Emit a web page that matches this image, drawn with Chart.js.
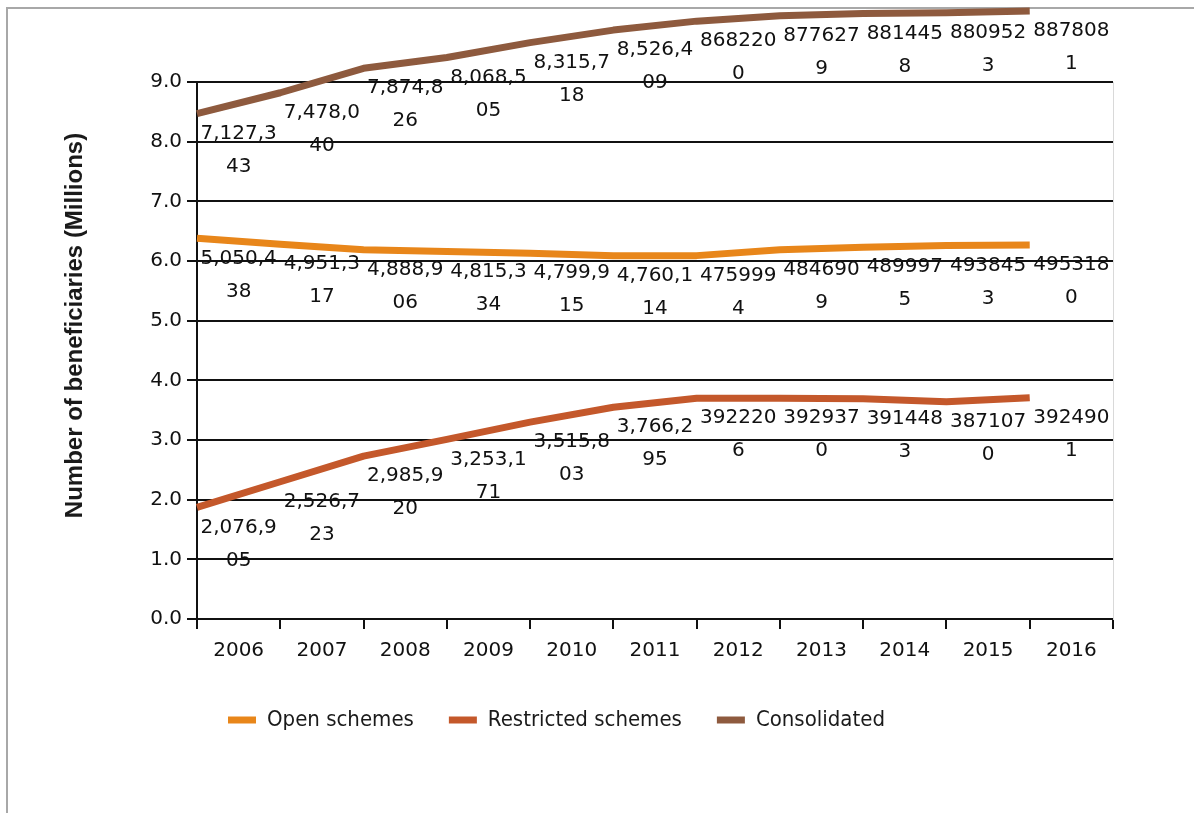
<!DOCTYPE html>
<html>
<head>
<meta charset="utf-8">
<script src="https://cdn.jsdelivr.net/npm/chart.js@4/dist/chart.umd.min.js"></script>
<style>
html,body{margin:0;padding:0;background:#fff;}
#frame{position:absolute;left:6px;top:7px;width:1188px;height:806px;border-left:2px solid #a8a8a8;border-top:2px solid #a8a8a8;box-sizing:border-box;}
#c{position:absolute;left:0;top:0;}
</style>
</head>
<body>
<div id="frame"></div>
<canvas id="c" width="1194" height="813"></canvas>
<script>
// Categories (x axis tick labels)
const years = ['2006','2007','2008','2009','2010','2011','2012','2013','2014','2015','2016'];
// Point slots: lines are drawn on the category boundaries (one extra slot at the right end)
const pointSlots = [...years, ''];
// Y axis tick values (millions)
const yTicks = [0,1,2,3,4,5,6,7,8,9];

// Plotted positions of each line (millions)
const openPlotted         = [6.38, 6.28, 6.19, 6.16, 6.13, 6.09, 6.09, 6.19, 6.23, 6.26, 6.27];
const restrictedPlotted   = [1.87, 2.30, 2.73, 3.01, 3.30, 3.55, 3.70, 3.70, 3.69, 3.64, 3.71];
const consolidatedPlotted = [8.47, 8.82, 9.23, 9.41, 9.66, 9.87, 10.02, 10.11, 10.15, 10.16, 10.19];

// Data label texts as printed in the chart
const openLabels = ['5,050,438','4,951,317','4,888,906','4,815,334','4,799,915','4,760,114','4759994','4846909','4899975','4938453','4953180'];
const restrictedLabels = ['2,076,905','2,526,723','2,985,920','3,253,171','3,515,803','3,766,295','3922206','3929370','3914483','3871070','3924901'];
const consolidatedLabels = ['7,127,343','7,478,040','7,874,826','8,068,505','8,315,718','8,526,409','8682200','8776279','8814458','8809523','8878081'];

const seriesNames = ['Open schemes','Restricted schemes','Consolidated'];
const seriesColors = ['#E8861A','#C4582B','#8E5A3E'];
const yTitle = 'Number of beneficiaries (Millions)';

function wrapChars(ctx, text, maxW) {
  const lines = [];
  let cur = '';
  for (const ch of text) {
    if (cur && ctx.measureText(cur + ch).width > maxW) { lines.push(cur); cur = ch; }
    else cur += ch;
  }
  if (cur) lines.push(cur);
  return lines;
}

const valueLabelPlugin = {
  id: 'valueLabels',
  afterDatasetsDraw(chart) {
    const ctx = chart.ctx;
    const xs = chart.scales.x;
    const slot = xs.width / years.length;
    ctx.save();
    ctx.font = '20px "DejaVu Sans"';
    ctx.fillStyle = '#111';
    ctx.textAlign = 'center';
    ctx.textBaseline = 'middle';
    chart.data.datasets.forEach((ds, di) => {
      const meta = chart.getDatasetMeta(di);
      ds.valueLabels.forEach((txt, j) => {
        const pt = meta.data[j];
        const cx = xs.getPixelForValue(j);
        wrapChars(ctx, txt, slot).forEach((ln, k) => ctx.fillText(ln, cx, pt.y + 20 + k * 33));
      });
    });
    ctx.restore();
  }
};

const yTitlePlugin = {
  id: 'yTitle',
  afterDraw(chart) {
    const ctx = chart.ctx;
    const a = chart.chartArea;
    ctx.save();
    ctx.translate(75, (a.top + a.bottom) / 2 - 25);
    ctx.rotate(-Math.PI / 2);
    ctx.font = 'bold 24px "Liberation Sans"';
    ctx.fillStyle = '#1a1a1a';
    ctx.textAlign = 'center';
    ctx.textBaseline = 'middle';
    ctx.fillText(yTitle, 0, 0);
    ctx.restore();
  }
};

function makeDs(i, data, labels) {
  return {
    label: seriesNames[i], data, valueLabels: labels,
    xAxisID: 'xp', yAxisID: 'y',
    borderColor: seriesColors[i], backgroundColor: seriesColors[i],
    borderWidth: 7, pointRadius: 0, pointHoverRadius: 0, tension: 0,
    clip: false, fill: false, borderCapStyle: 'butt', borderJoinStyle: 'round'
  };
}

new Chart(document.getElementById('c'), {
  type: 'line',
  data: {
    labels: years,
    datasets: [
      makeDs(0, openPlotted, openLabels),
      makeDs(1, restrictedPlotted, restrictedLabels),
      makeDs(2, consolidatedPlotted, consolidatedLabels)
    ]
  },
  options: {
    responsive: false,
    animation: false,
    events: [],
    layout: { padding: { top: 82, right: 81, bottom: 72, left: 0 } },
    scales: {
      x: {
        type: 'category', offset: true,
        grid: { display: true, drawOnChartArea: false, drawTicks: true, tickLength: 10, offset: true, color: '#111', lineWidth: 2 },
        border: { display: true, color: '#111', width: 2 },
        ticks: { padding: 10, color: '#111', font: { family: 'DejaVu Sans', size: 20 }, maxRotation: 0, autoSkip: false },
        afterFit(s) { s.height = 55; }
      },
      xp: { type: 'category', labels: pointSlots, offset: false, display: false },
      y: {
        position: 'left', min: 0, max: 9,
        grid: { color: '#111', lineWidth: 2, tickLength: 10, drawTicks: true },
        border: { color: '#111', width: 2 },
        ticks: { padding: 5, color: '#111', font: { family: 'DejaVu Sans', size: 20 }, callback: v => Number(v).toFixed(1) },
        afterBuildTicks(s) { s.ticks = yTicks.map(v => ({ value: v })); },
        afterFit(s) { s.width = 197; }
      },
      y2: {
        position: 'right', display: true,
        grid: { display: false, drawTicks: false },
        ticks: { display: false },
        border: { display: true, color: '#d9d9d9', width: 1 },
        afterFit(s) { s.width = 0; }
      }
    },
    plugins: {
      tooltip: { enabled: false },
      legend: {
        position: 'bottom',
        labels: {
          boxWidth: 28, boxHeight: 7, padding: 35,
          font: { family: "'DejaVu Sans Condensed', 'Liberation Sans Narrow', 'DejaVu Sans'", size: 22, lineHeight: 1 },
          generateLabels(chart) {
            return chart.data.datasets.map((ds, i) => ({
              text: ds.label, fillStyle: ds.borderColor, strokeStyle: ds.borderColor,
              lineWidth: 0, hidden: false, datasetIndex: i, fontColor: '#1a1a1a'
            }));
          }
        }
      }
    }
  },
  plugins: [valueLabelPlugin, yTitlePlugin]
});
</script>
</body>
</html>
